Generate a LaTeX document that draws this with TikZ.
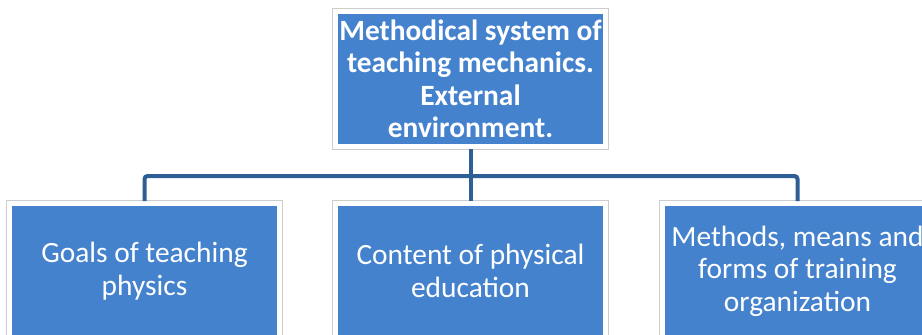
\documentclass[tikz,border=0pt]{standalone}
\usepackage{fontspec}
\setmainfont{Carlito}
\definecolor{boxblue}{RGB}{68,130,205}
\definecolor{linkblue}{RGB}{46,94,150}
\definecolor{rim}{RGB}{205,205,205}
\begin{document}
\begin{tikzpicture}[x=1pt,y=1pt,
  card/.style={rectangle, fill=boxblue, draw=white, line width=5pt,
    preaction={draw=rim, line width=6.5pt},
    minimum width=270pt, minimum height=135pt, inner sep=0pt,
    text=white, align=center,
    font=\fontsize{29.4}{32.5}\selectfont},
  link/.style={draw=linkblue, line width=4pt, rounded corners=3pt}]
\useasboundingbox (0,0) rectangle (922,-335);
\fill[white] (0,0) rectangle (922,-335);
\clip (0,0) rectangle (922,-335);

\node[card, font=\bfseries\fontsize{29.4}{32.5}\selectfont] (top) at (470.5,-79)
  {Methodical system of\\teaching mechanics.\\External\\environment.};
\node[card] (goals) at (144.5,-271) {Goals of teaching\\physics};
\node[card] (content) at (470.5,-271) {Content of physical\\education};
\node[card] (methods) at (797.5,-271) {Methods, means and\\forms of training\\organization};

\coordinate (bus) at (470.5,-176);
\draw[link] (top.south) -- (top.south |- bus);
\draw[link] (goals.north) -- (goals.north |- bus) -- (methods.north |- bus) -- (methods.north);
\draw[link] (content.north) -- (content.north |- bus);
\end{tikzpicture}
\end{document}
